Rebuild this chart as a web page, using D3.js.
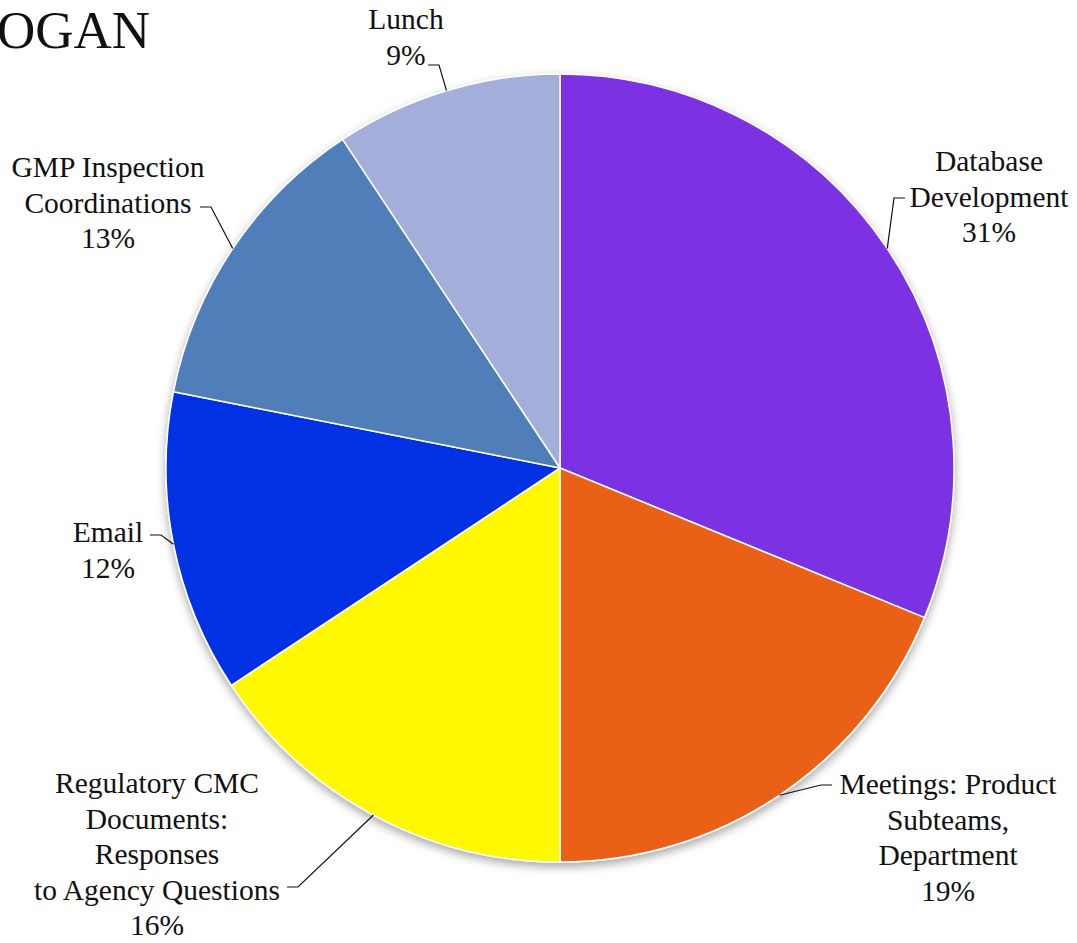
<!DOCTYPE html>
<html>
<head>
<meta charset="utf-8">
<script src="https://cdn.jsdelivr.net/npm/d3@7"></script>
<style>
  body { margin: 0; background: #fff; overflow: hidden; }
  text { font-family: "Liberation Serif", "DejaVu Serif", serif; fill: #111; }
</style>
</head>
<body>
<div id="piechart"></div>
<script>
// slice data, clockwise from 12 o'clock
let categories = [
    ["Database", "Development"],
    ["Meetings: Product", "Subteams,", "Department"],
    ["Regulatory CMC", "Documents:", "Responses", "to Agency Questions"],
    ["Email"],
    ["GMP Inspection", "Coordinations"],
    ["Lunch"]
];
let values = [31.2, 18.8, 15.7, 12.4, 12.6, 9.3];
let colors = ["#7B30E2", "#EA6012", "#FFF800", "#0530E4", "#507EB9", "#A3AEDB"];

// label placement: center x, first line y, and where the leader line meets the text
let labelPos = [
    { x: 989, y: 171, lx: 905, ly: 198 },
    { x: 948, y: 794, lx: 832, ly: 785 },
    { x: 157, y: 793, lx: 287, ly: 887 },
    { x: 108, y: 542, lx: 150, ly: 535 },
    { x: 108, y: 177, lx: 200, ly: 207 },
    { x: 406, y: 29, lx: 428, ly: 65 }
];

const width = 1077;
const height = 943;
const cx = 560, cy = 468, radius = 394;
const lineH = 35.5;

const svg = d3.select("#piechart")
    .append("svg")
    .attr("width", width)
    .attr("height", height);

const defs = svg.append("defs");
const shadow = defs.append("filter").attr("id", "shadow")
    .attr("x", "-10%").attr("y", "-10%").attr("width", "120%").attr("height", "120%");
shadow.append("feDropShadow")
    .attr("dx", 0).attr("dy", 4)
    .attr("stdDeviation", 5)
    .attr("flood-color", "#000")
    .attr("flood-opacity", 0.35);

// title, partly off the left edge
svg.append("text")
    .attr("x", -3)
    .attr("y", 48)
    .style("font-size", "53px")
    .text("OGAN");

const g = svg.append("g")
    .attr("transform", `translate(${cx}, ${cy})`);

const pieData = values.map((v, i) => ({ name: categories[i], value: v, color: colors[i], pos: labelPos[i] }));
const total = d3.sum(values);

const pie = d3.pie().sort(null).value(d => d.value);
const arc = d3.arc().innerRadius(0).outerRadius(radius);
const edgeArc = d3.arc().innerRadius(radius).outerRadius(radius);

const arcs = pie(pieData);

g.append("g")
    .attr("filter", "url(#shadow)")
    .selectAll("path")
    .data(arcs)
    .enter()
    .append("path")
    .attr("d", arc)
    .attr("fill", d => d.data.color)
    .attr("stroke", "#fff")
    .attr("stroke-width", 1.5)
    .attr("stroke-linejoin", "round");

// leader lines
arcs.forEach(d => {
    const [ex, ey] = edgeArc.centroid(d);
    const p = d.data.pos;
    const left = p.lx < cx;
    const elbowX = left ? p.lx + 11 : p.lx - 11;
    svg.append("polyline")
        .attr("points", `${p.lx},${p.ly} ${elbowX},${p.ly} ${cx + ex},${cy + ey}`)
        .attr("fill", "none")
        .attr("stroke", "#111")
        .attr("stroke-width", 1.2);
});

// labels
arcs.forEach(d => {
    const p = d.data.pos;
    const lines = d.data.name.concat([Math.round(d.data.value / total * 100) + "%"]);
    const t = svg.append("text")
        .attr("text-anchor", "middle")
        .style("font-size", "29.5px");
    lines.forEach((ln, i) => {
        t.append("tspan")
            .attr("x", p.x)
            .attr("y", p.y + i * lineH)
            .text(ln);
    });
});
</script>
</body>
</html>
